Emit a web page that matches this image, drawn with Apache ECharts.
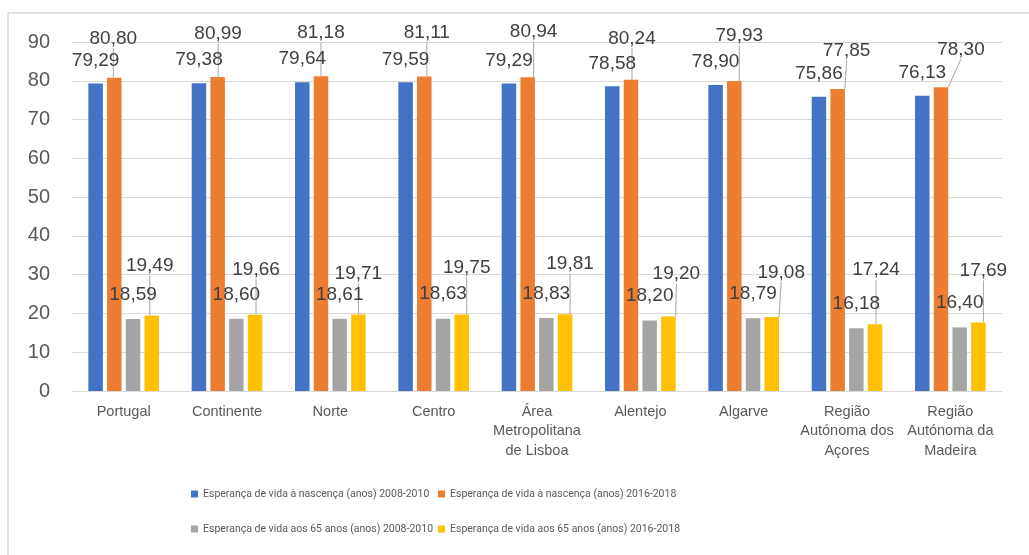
<!DOCTYPE html>
<html>
<head>
<meta charset="utf-8">
<script src="https://cdn.jsdelivr.net/npm/echarts@6/dist/echarts.min.js"></script>
<style>
  html, body { margin: 0; padding: 0; background: #ffffff; }
  #chart { width: 1029px; height: 555px; }
</style>
</head>
<body>
<div id="chart"></div>
<script>
// Regions of Portugal
const categories = [
  'Portugal', 'Continente', 'Norte', 'Centro',
  'Área\nMetropolitana\nde Lisboa', 'Alentejo', 'Algarve',
  'Região\nAutónoma dos\nAçores', 'Região\nAutónoma da\nMadeira'
];

const seriesNames = [
  'Esperança de vida à nascença (anos) 2008-2010',
  'Esperança de vida à nascença (anos) 2016-2018',
  'Esperança de vida aos 65 anos (anos) 2008-2010',
  'Esperança de vida aos 65 anos (anos) 2016-2018'
];

// Life expectancy values (years)
const birth2008 = [79.29, 79.38, 79.64, 79.59, 79.29, 78.58, 78.90, 75.86, 76.13];
const birth2016 = [80.80, 80.99, 81.18, 81.11, 80.94, 80.24, 79.93, 77.85, 78.30];
const at65_2008 = [18.59, 18.60, 18.61, 18.63, 18.83, 18.20, 18.79, 16.18, 16.40];
const at65_2016 = [19.49, 19.66, 19.71, 19.75, 19.81, 19.20, 19.08, 17.24, 17.69];

const yTicks = { min: 0, max: 90, step: 10 };

const colors = ['#4472C4', '#ED7D31', '#A5A5A5', '#FFC000'];

// Label placement (pixels, relative to the top centre of each bar)
const birth2016LabelShift = {
  dx: [-1, 0.5, 0, 2.5, 6, 1, 5, 9, 20],
  dy: [-39, -43, -43, -44, -45, -41, -45, -38, -38]
};
const at65_2016LabelShift = {
  dx: [-2, 1, 0, 5, 5, 8, 9.5, 1, 5],
  dy: [-49.5, -45, -40.5, -47, -50, -42.5, -44.5, -54, -51.5]
};

const labelFont = "'Liberation Sans', Arial, sans-serif";
const legendFont = "Roboto, 'Liberation Sans', sans-serif";
const fmt = p => p.value.toFixed(2).replace('.', ',');

function placedLabel(shift) {
  return function (params) {
    const i = params.dataIndex;
    const r = params.rect;
    return {
      x: r.x + r.width / 2 + shift.dx[i],
      y: r.y + shift.dy[i],
      align: 'center',
      verticalAlign: 'middle'
    };
  };
}

function makeSeries(idx, data, layout, withLine) {
  const s = {
    name: seriesNames[idx],
    type: 'bar',
    data: data,
    barWidth: 14.5,
    barGap: '29%',
    itemStyle: { color: colors[idx] },
    label: {
      show: true,
      position: 'top',
      formatter: fmt,
      color: '#404040',
      fontSize: 19,
      fontFamily: labelFont
    },
    labelLayout: layout
  };
  if (withLine) {
    s.labelLine = { show: true, lineStyle: { color: '#a6a6a6', width: 1 } };
  }
  return s;
}

const legendCommon = {
  padding: 0,
  itemWidth: 7,
  itemHeight: 7,
  icon: 'rect',
  selectedMode: false,
  textStyle: { color: '#595959', fontSize: 10.5, fontFamily: legendFont }
};

const chart = echarts.init(document.getElementById('chart'), null, { renderer: 'canvas' });

chart.setOption({
  backgroundColor: '#ffffff',
  animation: false,
  color: colors,
  grid: { left: 72, right: 27, top: 42, bottom: 164, containLabel: false },
  graphic: [
    { type: 'line', shape: { x1: 8, y1: 13, x2: 8, y2: 555 }, style: { stroke: '#d9d9d9', lineWidth: 1.5 } },
    { type: 'line', shape: { x1: 8, y1: 13, x2: 1029, y2: 13 }, style: { stroke: '#d9d9d9', lineWidth: 1.5 } }
  ],
  legend: [
    Object.assign({ data: [seriesNames[0]], left: 191, top: 488.5 }, legendCommon),
    Object.assign({ data: [seriesNames[1]], left: 438, top: 488.5 }, legendCommon),
    Object.assign({ data: [seriesNames[2]], left: 191, top: 523.5 }, legendCommon),
    Object.assign({ data: [seriesNames[3]], left: 438, top: 523.5 }, legendCommon)
  ],
  xAxis: {
    type: 'category',
    data: categories,
    axisLine: { show: true, lineStyle: { color: '#d9d9d9', width: 1 } },
    axisTick: { show: false },
    axisLabel: {
      color: '#595959',
      fontSize: 14.5,
      lineHeight: 19.5,
      margin: 11,
      interval: 0,
      fontFamily: labelFont
    }
  },
  yAxis: {
    type: 'value',
    min: yTicks.min,
    max: yTicks.max,
    interval: yTicks.step,
    axisLine: { show: false },
    axisTick: { show: false },
    splitLine: { lineStyle: { color: '#d9d9d9', width: 1 } },
    axisLabel: {
      color: '#595959',
      fontSize: 20,
      margin: 22,
      fontFamily: labelFont
    }
  },
  series: [
    makeSeries(0, birth2008, placedLabel({ dx: Array(9).fill(0), dy: Array(9).fill(-23) }), false),
    makeSeries(1, birth2016, placedLabel(birth2016LabelShift), true),
    makeSeries(2, at65_2008, placedLabel({ dx: Array(9).fill(0), dy: Array(9).fill(-24.5) }), false),
    makeSeries(3, at65_2016, placedLabel(at65_2016LabelShift), true)
  ]
});
</script>
</body>
</html>
